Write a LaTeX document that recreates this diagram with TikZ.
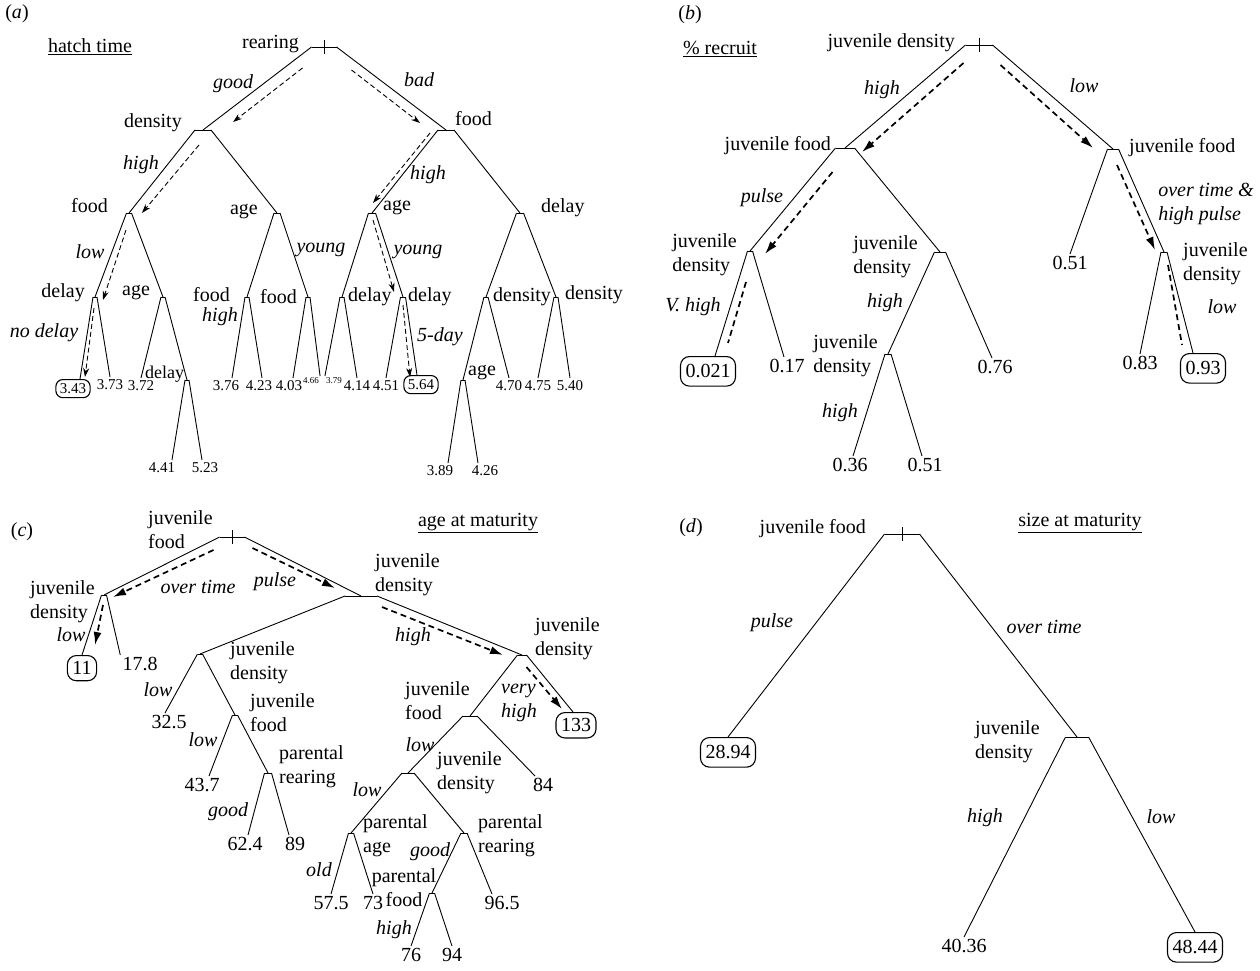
\documentclass[tikz,border=0pt]{standalone}
\usepackage{fontspec}
\setmainfont{Liberation Serif}
\usetikzlibrary{arrows.meta}
\usetikzlibrary{calc}

\tikzset{
    branch/.style={line width=0.9pt},
    hat/.style={minimum width=#1, minimum height=0pt, inner sep=0pt, outer sep=0pt,
        append after command={(\tikzlastnode.west) edge[branch] (\tikzlastnode.east)}},
    lab/.style={font=\fontsize{20}{24}\selectfont, inner sep=1pt, align=left},
    cond/.style={lab, font=\fontsize{20}{24}\selectfont\itshape},
    leaf/.style={lab, inner sep=2pt, anchor=north},
    leafsm/.style={leaf, font=\fontsize{15}{17}\selectfont},
    leafxs/.style={leaf, font=\fontsize{9}{10}\selectfont, inner sep=1pt},
    best/.style={draw, line width=1.1pt, rounded corners=9pt, inner xsep=5pt, inner ysep=6pt},
    bestsm/.style={draw, line width=1.1pt, rounded corners=7pt, inner xsep=4pt, inner ysep=4pt},
    trail/.style={line width=0.9pt, dash pattern=on 5pt off 3pt, -{Stealth[length=9pt, width=6pt]}},
    dashbold/.style={line width=1.7pt, dash pattern=on 6pt off 4pt},
    trailbold/.style={dashbold, -{Latex[length=13pt, width=8pt]}},
    tick/.style={line width=0.9pt},
}

\begin{document}
\begin{tikzpicture}[x=1pt, y=-1pt]
    \useasboundingbox (0,0) rectangle (1260,971);

    % (a) hatch time
    \node[lab] (aTag) at (17,14) {(\textit{a})};
    \node[lab] (aTtl) at (90,47) {\underline{hatch time}};

    % splits
    \node[hat=25pt] (aR) at (324,47) {};
    \node[hat=16pt] (aD) at (203,130) {};
    \node[hat=16pt] (aF) at (446,130) {};
    \node[hat=5pt] (aF2) at (129,213) {};
    \node[hat=6pt] (aA) at (277,213) {};
    \node[hat=7pt] (aA2) at (372,213) {};
    \node[hat=7pt] (aL) at (520,213) {};
    \node[hat=4pt] (aL1) at (95,297) {};
    \node[hat=4pt] (aA3) at (163,297) {};
    \node[hat=4pt] (aF3) at (247,297) {};
    \node[hat=4pt] (aF4) at (308,297) {};
    \node[hat=4pt] (aL2) at (342,297) {};
    \node[hat=5pt] (aL3) at (403,297) {};
    \node[hat=4pt] (aN1) at (486,297) {};
    \node[hat=4pt] (aN2) at (556,297) {};
    \node[hat=4pt] (aL4) at (187,380) {};
    \node[hat=4pt] (aA4) at (463,380) {};
    \draw[tick] ($(aR)+(0,-7)$) -- ($(aR)+(0,7)$);

    % split names
    \node[lab, anchor=east] (aRt) at (300,44) {rearing};
    \node[lab, anchor=east] (aDt) at (183,123) {density};
    \node[lab, anchor=west] (aFt) at (454,119) {food};
    \node[lab, anchor=east] (aF2t) at (109,206) {food};
    \node[lab, anchor=east] (aAt) at (259,212) {age};
    \node[lab, anchor=west] (aA2t) at (382,208) {age};
    \node[lab, anchor=west] (aLt) at (540,208) {delay};
    \node[lab, anchor=east] (aL1t) at (86,293) {delay};
    \node[lab, anchor=west] (aA3t) at (121,293) {age};
    \node[lab, anchor=east] (aF3t) at (231,295) {food};
    \node[lab, anchor=east] (aF4t) at (298,297) {food};
    \node[lab, anchor=west] (aL2t) at (347,297) {delay};
    \node[lab, anchor=west] (aL3t) at (407,297) {delay};
    \node[lab, anchor=west] (aN1t) at (492,297) {density};
    \node[lab, anchor=west] (aN2t) at (564,295) {density};
    \node[lab, anchor=west, font=\fontsize{18}{20}\selectfont] (aL4t) at (144,374) {delay};
    \node[lab, anchor=west] (aA4t) at (467,373) {age};

    % leaves
    \node[leafsm, bestsm] (aV1) at (73,379) {3.43};
    \node[leafsm] (aV2) at (110,377) {3.73};
    \node[leafsm] (aV3) at (141,378) {3.72};
    \node[leafsm] (aV4) at (162,460) {4.41};
    \node[leafsm] (aV5) at (205,460) {5.23};
    \node[leafsm] (aV6) at (226,378) {3.76};
    \node[leafsm] (aV7) at (259,378) {4.23};
    \node[leafsm] (aV8) at (289,378) {4.03};
    \node[leafxs] (aV9) at (311,376) {4.66};
    \node[leafxs] (aV10) at (334,376) {3.79};
    \node[leafsm] (aV11) at (357,378) {4.14};
    \node[leafsm] (aV12) at (386,378) {4.51};
    \node[leafsm, bestsm] (aV13) at (421,375) {5.64};
    \node[leafsm] (aV14) at (440,463) {3.89};
    \node[leafsm] (aV15) at (485,463) {4.26};
    \node[leafsm] (aV16) at (509,378) {4.70};
    \node[leafsm] (aV17) at (538,378) {4.75};
    \node[leafsm] (aV18) at (570,378) {5.40};

    % branches
    \draw[branch] (aR.west) -- (aD.center) (aR.east) -- (aF.center);
    \draw[branch] (aD.west) -- (aF2.center) (aD.east) -- (aA.center);
    \draw[branch] (aF.west) -- (aA2.center) (aF.east) -- (aL.center);
    \draw[branch] (aF2.west) -- (aL1.center) (aF2.east) -- (aA3.center);
    \draw[branch] (aA.west) -- (aF3.center) (aA.east) -- (aF4.center);
    \draw[branch] (aA2.west) -- (aL2.center) (aA2.east) -- (aL3.center);
    \draw[branch] (aL.west) -- (aN1.center) (aL.east) -- (aN2.center);
    \draw[branch] (aL1.west) -- ([xshift=7pt]aV1.north) (aL1.east) -- (aV2.north);
    \draw[branch] (aA3.west) -- (aV3.north) (aA3.east) -- (aL4.center);
    \draw[branch] (aL4.west) -- ([xshift=10pt]aV4.north) (aL4.east) -- ([xshift=-3pt]aV5.north);
    \draw[branch] (aF3.west) -- ([xshift=6pt]aV6.north) (aF3.east) -- ([xshift=3pt]aV7.north);
    \draw[branch] (aF4.west) -- ([xshift=4pt]aV8.north) (aF4.east) -- (aV9.north east);
    \draw[branch] (aL2.west) -- (aV10.north west) (aL2.east) -- (aV11.north);
    \draw[branch] (aL3.west) -- (aV12.north) (aL3.east) -- ([xshift=-4pt]aV13.north);
    \draw[branch] (aN1.west) -- (aA4.center) (aN1.east) -- (aV16.north);
    \draw[branch] (aA4.west) -- ([xshift=8pt]aV14.north) (aA4.east) -- ([xshift=-7pt]aV15.north);
    \draw[branch] (aN2.west) -- (aV17.north) (aN2.east) -- (aV18.north);

    % branch values
    \node[cond] (aE1) at (233,84) {good};
    \node[cond] (aE2) at (419,80) {bad};
    \node[cond] (aE3) at (141,165) {high};
    \node[cond] (aE4) at (428,175) {high};
    \node[cond] (aE5) at (90,252) {low};
    \node[cond] (aE6) at (321,250) {young};
    \node[cond] (aE7) at (418,252) {young};
    \node[cond] (aE8) at (220,317) {high};
    \node[cond] (aE9) at (44,333) {no delay};
    \node[cond] (aE10) at (440,337) {5-day};

    % paths
    \draw[trail] ($(aR.west)+(-9,21)$) -- ($(aD)+(30,-8)$);
    \draw[trail] ($(aD.west)+(4,15)$) -- ($(aF2)+(13,0)$);
    \draw[trail] ($(aF2)+(-3,17)$) -- ($(aL1)+(8,3)$);
    \draw[trail] ($(aL1)+(-1,11)$) -- ($(aV1.north)+(12,-2)$);
    \draw[trail] ($(aR.east)+(15,23)$) -- ($(aF)+(-26,-7)$);
    \draw[trail] ($(aF.west)+(-8,3)$) -- ($(aA2)+(1,-10)$);
    \draw[trail] ($(aA2)+(1,7)$) -- ($(aL3)+(-9,-5)$);
    \draw[trail] ($(aL3)+(0,8)$) -- ($(aV13.north)+(-11,2)$);

    % (b) % recruit
    \node[lab] (bTag) at (690,15) {(\textit{b})};
    \node[lab] (bTtl) at (720,49) {\underline{\% recruit}};

    \node[hat=27pt] (bR) at (979,45) {};
    \node[hat=19pt] (bF1) at (845,148) {};
    \node[hat=11pt] (bF2) at (1113,149) {};
    \node[hat=5pt] (bD1) at (750,251) {};
    \node[hat=11pt] (bD2) at (940,252) {};
    \node[hat=6pt] (bD3) at (888,354) {};
    \node[hat=6pt] (bD4) at (1164,252) {};
    \draw[tick] ($(bR)+(0,-7)$) -- ($(bR)+(0,7)$);

    \node[lab, anchor=east] (bRt) at (956,43) {juvenile density};
    \node[lab, anchor=east] (bF1t) at (832,146) {juvenile food};
    \node[lab, anchor=west] (bF2t) at (1128,148) {juvenile food};
    \node[lab, anchor=east] (bD1t) at (738,255) {juvenile\\density};
    \node[lab, anchor=east] (bD2t) at (919,257) {juvenile\\density};
    \node[lab, anchor=east] (bD3t) at (879,356) {juvenile\\density};
    \node[lab, anchor=west] (bD4t) at (1182,264) {juvenile\\density};

    \node[leaf, best, inner ysep=8pt] (bV1) at (708,356) {0.021};
    \node[leaf] (bV2) at (787,357) {0.17};
    \node[leaf] (bV3) at (995,358) {0.76};
    \node[leaf] (bV4) at (850,456) {0.36};
    \node[leaf] (bV5) at (925,456) {0.51};
    \node[leaf] (bV6) at (1070,254) {0.51};
    \node[leaf] (bV7) at (1140,354) {0.83};
    \node[leaf, best, inner ysep=8pt] (bV8) at (1203,353) {0.93};

    \draw[branch] (bR.west) -- (bF1.center) (bR.east) -- (bF2.center);
    \draw[branch] (bF1.west) -- (bD1.center) (bF1.east) -- (bD2.center);
    \draw[branch] (bF2.west) -- (bV6.north) (bF2.east) -- (bD4.center);
    \draw[branch] (bD1.west) -- ([xshift=7pt]bV1.north) (bD1.east) -- ([xshift=-3pt]bV2.north);
    \draw[branch] (bD2.west) -- (bD3.center) (bD2.east) -- ([xshift=-3pt]bV3.north);
    \draw[branch] (bD3.west) -- ([xshift=3pt]bV4.north) (bD3.east) -- ([xshift=-3pt]bV5.north);
    \draw[branch] (bD4.west) -- (bV7.north) (bD4.east) -- ([xshift=-10pt]bV8.north);

    \node[cond] (bE1) at (882,90) {high};
    \node[cond] (bE2) at (1084,86) {low};
    \node[cond] (bE3) at (762,198) {pulse};
    \node[cond] (bE4) at (1206,204) {over time \&\\high pulse};
    \node[cond] (bE5) at (693,307) {V.\ high};
    \node[cond] (bE6) at (885,303) {high};
    \node[cond] (bE7) at (840,413) {high};
    \node[cond] (bE8) at (1222,307) {low};

    \draw[trailbold] ($(bR.west)+(-2,18)$) -- ($(bF1)+(17,4)$);
    \draw[trailbold] ($(bF1.west)+(-3,24)$) -- ($(bD1)+(15,3)$);
    \draw[dashbold] ($(bD1)+(-4,31)$) -- ($(bV1.north)+(20,-13)$);
    \draw[trailbold] ($(bR.east)+(8,20)$) -- ($(bF2)+(-20,-1)$);
    \draw[trailbold] ($(bF2)+(4,16)$) -- ($(bD4)+(-9,-2)$);
    \draw[dashbold] ($(bD4)+(4,13)$) -- ($(bV8.north)+(-21,-8)$);

    % (c) age at maturity
    \node[lab] (cTag) at (22,532) {(\textit{c})};
    \node[lab] (cTtl) at (478,523) {\underline{age at maturity}};

    \node[hat=25pt] (cR) at (232,537) {};
    \node[hat=5pt] (cD1) at (104,595) {};
    \node[hat=32pt] (cD2) at (361,596) {};
    \node[hat=5pt] (cD3) at (200,654) {};
    \node[hat=9pt] (cD4) at (522,655) {};
    \node[hat=5pt] (cF1) at (235,715) {};
    \node[hat=14pt] (cF2) at (470,716) {};
    \node[hat=7pt] (cP1) at (268,773) {};
    \node[hat=12pt] (cD5) at (408,773) {};
    \node[hat=5pt] (cA1) at (351,833) {};
    \node[hat=6pt] (cP2) at (464,833) {};
    \node[hat=5pt] (cF3) at (432,893) {};
    \draw[tick] ($(cR)+(0,-7)$) -- ($(cR)+(0,7)$);

    \node[lab, anchor=west] (cRt) at (147,530) {juvenile\\food};
    \node[lab, anchor=west] (cD1t) at (29,602) {juvenile\\density};
    \node[lab, anchor=west] (cD2t) at (374,575) {juvenile\\density};
    \node[lab, anchor=west] (cD3t) at (229,663) {juvenile\\density};
    \node[lab, anchor=west] (cF1t) at (249,713) {juvenile\\food};
    \node[lab, anchor=west] (cP1t) at (278,767) {parental\\rearing};
    \node[lab, anchor=west] (cD4t) at (534,639) {juvenile\\density};
    \node[lab, anchor=west] (cF2t) at (404,701) {juvenile\\food};
    \node[lab, anchor=west] (cD5t) at (436,773) {juvenile\\density};
    \node[lab, anchor=west] (cA1t) at (362,836) {parental\\age};
    \node[lab, anchor=west] (cP2t) at (477,836) {parental\\rearing};
    \node[lab, align=center] (cF3t) at (404,888) {parental\\food};

    \node[leaf, best] (cV1) at (82,655) {11};
    \node[leaf] (cV2) at (140,655) {17.8};
    \node[leaf] (cV3) at (169,713) {32.5};
    \node[leaf] (cV4) at (202,776) {43.7};
    \node[leaf] (cV5) at (245,835) {62.4};
    \node[leaf] (cV6) at (295,835) {89};
    \node[leaf, best] (cV7) at (576,712) {133};
    \node[leaf] (cV8) at (543,776) {84};
    \node[leaf] (cV9) at (331,894) {57.5};
    \node[leaf] (cV10) at (373,894) {73};
    \node[leaf] (cV11) at (502,894) {96.5};
    \node[leaf] (cV12) at (411,946) {76};
    \node[leaf] (cV13) at (452,946) {94};

    \draw[branch] (cR.west) -- (cD1.center) (cR.east) -- (cD2.center);
    \draw[branch] (cD1.west) -- (cV1.north) (cD1.east) -- (cV2.north west);
    \draw[branch] (cD2.west) -- (cD3.center) (cD2.east) -- (cD4.center);
    \draw[branch] (cD3.west) -- ([xshift=-4pt]cV3.north) (cD3.east) -- (cF1.center);
    \draw[branch] (cF1.west) -- ([xshift=7pt]cV4.north) (cF1.east) -- (cP1.center);
    \draw[branch] (cP1.west) -- ([xshift=3pt]cV5.north) (cP1.east) -- ([xshift=-6pt]cV6.north);
    \draw[branch] (cD4.west) -- (cF2.center) (cD4.east) -- ([xshift=-3pt]cV7.north);
    \draw[branch] (cF2.west) -- (cD5.center) (cF2.east) -- ([xshift=-8pt]cV8.north);
    \draw[branch] (cD5.west) -- (cA1.center) (cD5.east) -- (cP2.center);
    \draw[branch] (cA1.west) -- (cV9.north) (cA1.east) -- (cV10.north);
    \draw[branch] (cP2.west) -- (cF3.center) (cP2.east) -- ([xshift=-10pt]cV11.north);
    \draw[branch] (cF3.west) -- (cV12.north) (cF3.east) -- (cV13.north);

    \node[cond] (cE1) at (198,587) {over time};
    \node[cond] (cE2) at (275,582) {pulse};
    \node[cond] (cE3) at (71,635) {low};
    \node[cond] (cE4) at (413,637) {high};
    \node[cond] (cE5) at (519,703) {very\\high};
    \node[cond] (cE6) at (158,690) {low};
    \node[cond] (cE7) at (203,740) {low};
    \node[cond] (cE8) at (228,812) {good};
    \node[cond] (cE9) at (420,745) {low};
    \node[cond] (cE10) at (367,790) {low};
    \node[cond] (cE11) at (319,870) {old};
    \node[cond] (cE12) at (430,852) {good};
    \node[cond] (cE13) at (394,930) {high};

    \draw[trailbold] ($(cR.west)+(-6,13)$) -- ($(cD1)+(9,2)$);
    \draw[trailbold] ($(cD1)+(-1,10)$) -- ($(cV1.north)+(13,-10)$);
    \draw[trailbold] ($(cR.east)+(8,11)$) -- ($(cD2)+(-26,-8)$);
    \draw[trailbold] ($(cD2.east)+(5,11)$) -- ($(cD4)+(-19,0)$);
    \draw[trailbold] ($(cD4.east)+(0,12)$) -- ($(cV7.north)+(-14,-3)$);

    % (d) size at maturity
    \node[lab] (dTag) at (691,528) {(\textit{d})};
    \node[lab] (dTtl) at (1080,523) {\underline{size at maturity}};

    \node[hat=35pt] (dR) at (902,534) {};
    \node[hat=23pt] (dD) at (1077,737) {};
    \draw[tick] ($(dR)+(0,-7)$) -- ($(dR)+(0,7)$);

    \node[lab, anchor=east] (dRt) at (867,529) {juvenile food};
    \node[lab, anchor=west] (dDt) at (974,742) {juvenile\\density};

    \node[leaf, best, inner ysep=8pt] (dV1) at (728,737) {28.94};
    \node[leaf] (dV2) at (964,937) {40.36};
    \node[leaf, best, inner ysep=8pt] (dV3) at (1195,932) {48.44};

    \draw[branch] (dR.west) -- (dV1.north) (dR.east) -- (dD.center);
    \draw[branch] (dD.west) -- (dV2.north) (dD.east) -- (dV3.north);

    \node[cond] (dE1) at (772,623) {pulse};
    \node[cond] (dE2) at (1044,627) {over time};
    \node[cond] (dE3) at (985,818) {high};
    \node[cond] (dE4) at (1161,817) {low};
\end{tikzpicture}
\end{document}
